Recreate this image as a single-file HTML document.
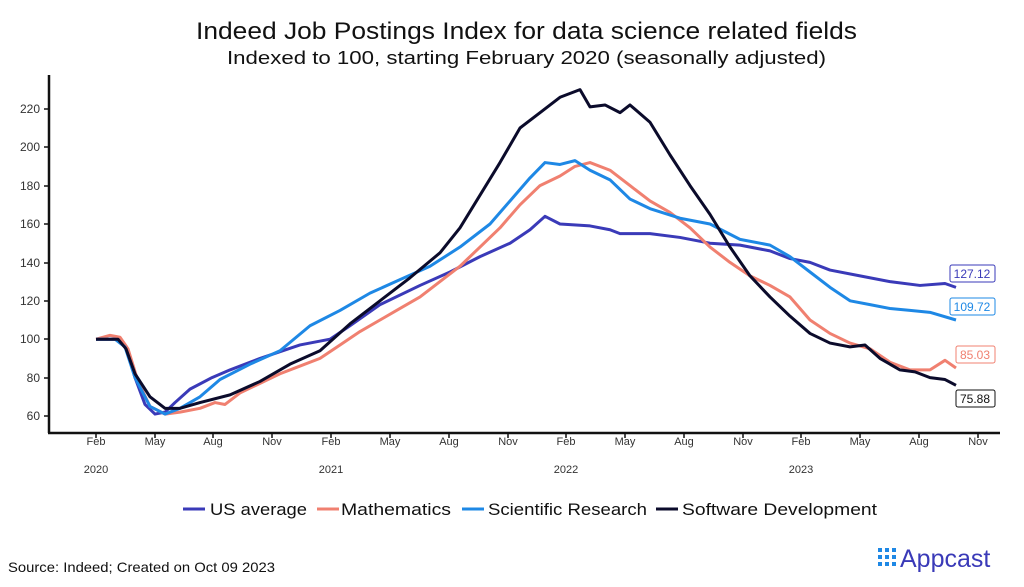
<!DOCTYPE html>
<html><head><meta charset="utf-8"><style>
body{margin:0;background:#fff;width:1024px;height:582px;overflow:hidden;font-family:"Liberation Sans",sans-serif;}
</style></head><body>
<svg width="1024" height="582" viewBox="0 0 1024 582" xmlns="http://www.w3.org/2000/svg" font-family="Liberation Sans, sans-serif">
<text x="196" y="39" textLength="661" lengthAdjust="spacingAndGlyphs" font-size="24" fill="#111">Indeed Job Postings Index for data science related fields</text>
<text x="227" y="64" textLength="599" lengthAdjust="spacingAndGlyphs" font-size="18" fill="#111">Indexed to 100, starting February 2020 (seasonally adjusted)</text>
<g stroke="#111" stroke-width="2.5" fill="none">
<line x1="49" y1="75" x2="49" y2="433"/><line x1="48" y1="433" x2="1000" y2="433"/>
</g>
<g font-size="12" fill="#333" text-anchor="end">
<text x="40" y="420">60</text><text x="40" y="382">80</text><text x="40" y="343">100</text><text x="40" y="305">120</text><text x="40" y="267">140</text><text x="40" y="228">160</text><text x="40" y="190">180</text><text x="40" y="151">200</text><text x="40" y="113">220</text>
</g>
<g stroke="#111" stroke-width="1.5">
<line x1="44" y1="416" x2="49" y2="416"/><line x1="44" y1="378" x2="49" y2="378"/><line x1="44" y1="339" x2="49" y2="339"/><line x1="44" y1="301" x2="49" y2="301"/><line x1="44" y1="263" x2="49" y2="263"/><line x1="44" y1="224" x2="49" y2="224"/><line x1="44" y1="186" x2="49" y2="186"/><line x1="44" y1="147" x2="49" y2="147"/><line x1="44" y1="109" x2="49" y2="109"/>
</g>
<g font-size="11" fill="#333" text-anchor="middle">
<text x="96" y="473">2020</text><text x="331" y="473">2021</text><text x="566" y="473">2022</text><text x="801" y="473">2023</text>
</g>
<g fill="none" stroke-width="3" stroke-linejoin="round" transform="matrix(1 0 0 -1.92 0 531.2)">
<polyline vector-effect="non-scaling-stroke" stroke="#3a3ab8" points="96,100 118,100 126,96 135,80 145,66 155,61 165,62 175,67 190,74 212,80 230,84 260,90 300,97 330,100 350,107 380,118 420,128 450,135 480,143 510,150 530,157 545,164 560,160 590,159 610,157 620,155 650,155 680,153 710,150 740,149 770,146 790,142 810,140 830,136 860,133 890,130 920,128 945,129 956,127"/>
<polyline vector-effect="non-scaling-stroke" stroke="#f08070" points="96,100 110,102 120,101 128,95 138,78 150,65 165,61 180,62 200,64 215,67 225,66 240,72 260,77 280,82 300,86 320,90 340,97 360,104 380,110 400,116 420,122 440,130 460,138 480,148 500,158 520,170 540,180 560,185 575,190 590,192 610,188 630,180 650,172 670,166 690,158 710,148 730,140 750,133 770,128 790,122 810,110 830,103 850,98 870,95 890,88 910,84 930,84 945,89 956,85"/>
<polyline vector-effect="non-scaling-stroke" stroke="#1e88e5" points="96,100 115,100 125,96 135,80 150,65 165,61 180,64 200,70 220,79 250,87 280,94 310,107 340,115 370,124 400,131 430,138 460,148 490,160 510,172 530,184 545,192 560,191 575,193 590,188 610,183 630,173 650,168 680,163 710,160 740,152 770,149 790,143 810,135 830,127 850,120 870,118 890,116 910,115 930,114 956,110"/>
<polyline vector-effect="non-scaling-stroke" stroke="#0b0b2b" points="96,100 118,100 126,95 135,82 150,70 165,64 180,64 200,67 230,71 260,78 290,87 320,94 350,108 380,120 410,132 440,145 460,158 480,175 500,192 520,210 540,218 560,226 580,230 590,221 605,222 620,218 630,222 650,213 670,196 690,180 710,165 730,148 750,133 770,122 790,112 810,103 830,98 850,96 865,97 880,90 900,84 915,83 930,80 945,79 956,76"/>
</g>
<g font-size="12" text-anchor="middle">
<rect x="950" y="265" width="45" height="17" rx="2" fill="#fff" stroke="#3a3ab8"/><text x="972" y="278" fill="#3a3ab8">127.12</text>
<rect x="950" y="298" width="45" height="17" rx="2" fill="#fff" stroke="#1e88e5"/><text x="972" y="311" fill="#1e88e5">109.72</text>
<rect x="956" y="346" width="39" height="17" rx="2" fill="#fff" stroke="#f08070"/><text x="975" y="359" fill="#f08070">85.03</text>
<rect x="956" y="390" width="39" height="17" rx="2" fill="#fff" stroke="#111"/><text x="975" y="403" fill="#111">75.88</text>
</g>
<g font-size="17" fill="#111" lengthAdjust="spacingAndGlyphs">
<line x1="183" y1="509" x2="205" y2="509" stroke="#3a3ab8" stroke-width="3"/><text x="210" y="515" textLength="97" lengthAdjust="spacingAndGlyphs">US average</text>
<line x1="317" y1="509" x2="339" y2="509" stroke="#f08070" stroke-width="3"/><text x="341" y="515" textLength="110" lengthAdjust="spacingAndGlyphs">Mathematics</text>
<line x1="462" y1="509" x2="484" y2="509" stroke="#1e88e5" stroke-width="3"/><text x="488" y="515" textLength="159" lengthAdjust="spacingAndGlyphs">Scientific Research</text>
<line x1="656" y1="509" x2="678" y2="509" stroke="#0b0b2b" stroke-width="3"/><text x="682" y="515" textLength="195" lengthAdjust="spacingAndGlyphs">Software Development</text>
</g>
<text x="8" y="572" font-size="14" textLength="267" lengthAdjust="spacingAndGlyphs" fill="#111">Source: Indeed; Created on Oct 09 2023</text>
<g fill="#1e88e5">
<rect x="878" y="548" width="4" height="4"/><rect x="878" y="555" width="4" height="4"/><rect x="878" y="562" width="4" height="4"/>
<rect x="885" y="548" width="4" height="4"/><rect x="885" y="555" width="4" height="4"/><rect x="885" y="562" width="4" height="4"/>
<rect x="892" y="548" width="4" height="4"/><rect x="892" y="555" width="4" height="4"/><rect x="892" y="562" width="4" height="4"/>
</g>
<text x="900" y="567" font-size="25" fill="#3a3ab8">Appcast</text>
<g stroke="#111" stroke-width="1.5">
<line x1="96" y1="433" x2="96" y2="438"/><line x1="155" y1="433" x2="155" y2="438"/><line x1="213" y1="433" x2="213" y2="438"/><line x1="272" y1="433" x2="272" y2="438"/><line x1="331" y1="433" x2="331" y2="438"/><line x1="390" y1="433" x2="390" y2="438"/><line x1="449" y1="433" x2="449" y2="438"/><line x1="508" y1="433" x2="508" y2="438"/><line x1="566" y1="433" x2="566" y2="438"/><line x1="625" y1="433" x2="625" y2="438"/><line x1="684" y1="433" x2="684" y2="438"/><line x1="743" y1="433" x2="743" y2="438"/><line x1="801" y1="433" x2="801" y2="438"/><line x1="860" y1="433" x2="860" y2="438"/><line x1="919" y1="433" x2="919" y2="438"/><line x1="978" y1="433" x2="978" y2="438"/>
</g>
<g font-size="11" fill="#333" text-anchor="middle">
<text x="96" y="445">Feb</text><text x="155" y="445">May</text><text x="213" y="445">Aug</text><text x="272" y="445">Nov</text><text x="331" y="445">Feb</text><text x="390" y="445">May</text><text x="449" y="445">Aug</text><text x="508" y="445">Nov</text><text x="566" y="445">Feb</text><text x="625" y="445">May</text><text x="684" y="445">Aug</text><text x="743" y="445">Nov</text><text x="801" y="445">Feb</text><text x="860" y="445">May</text><text x="919" y="445">Aug</text><text x="978" y="445">Nov</text>
</g>
</svg>
</body></html>
